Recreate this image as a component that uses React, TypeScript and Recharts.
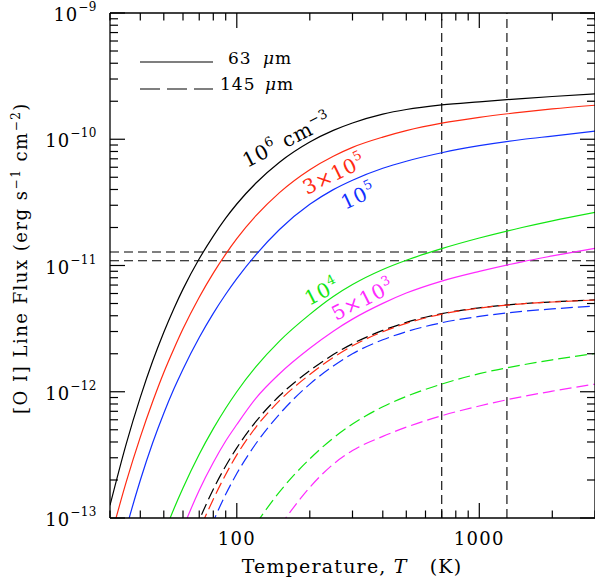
import { Line, LineChart, ReferenceLine, XAxis, YAxis } from "recharts";

// temperature grid (K)
const temps = [30, 35, 40, 45, 50, 55, 60, 70, 80, 90, 100, 120, 150, 200, 250, 300, 400, 500, 700, 1000, 1500, 2000, 3000];

// [O I] 63 um line flux, one array per density
const n1e6_63 = [1.26e-13, 3.87e-13, 9.03e-13, 1.75e-12, 2.96e-12, 4.55e-12, 6.5e-12, 1.13e-11, 1.71e-11, 2.37e-11, 3.07e-11, 4.5e-11, 6.58e-11, 9.51e-11, 1.175e-10, 1.345e-10, 1.58e-10, 1.72e-10, 1.87e-10, 1.98e-10, 2.1e-10, 2.18e-10, 2.29e-10];
const n3e5_63 = [6.67e-14, 1.93e-13, 4.37e-13, 8.36e-13, 1.42e-12, 2.18e-12, 3.15e-12, 5.61e-12, 8.71e-12, 1.23e-11, 1.63e-11, 2.48e-11, 3.78e-11, 5.74e-11, 7.34e-11, 8.63e-11, 1.04e-10, 1.17e-10, 1.34e-10, 1.49e-10, 1.64e-10, 1.74e-10, 1.86e-10];
const n1e5_63 = [2.59e-14, 8.24e-14, 1.99e-13, 3.94e-13, 6.76e-13, 1.05e-12, 1.51e-12, 2.69e-12, 4.18e-12, 5.92e-12, 7.87e-12, 1.22e-11, 1.93e-11, 3.05e-11, 3.99e-11, 4.74e-11, 5.89e-11, 6.7e-11, 7.82e-11, 8.89e-11, 9.95e-11, 1.06e-10, 1.16e-10];
const n1e4_63 = [null, null, null, null, 7.45e-14, 1.18e-13, 1.73e-13, 3.2e-13, 5.1e-13, 7.4e-13, 1.0e-12, 1.58e-12, 2.52e-12, 4.1e-12, 5.68e-12, 7.06e-12, 9.29e-12, 1.1e-11, 1.36e-11, 1.65e-11, 2.0e-11, 2.26e-11, 2.64e-11];
const n5e3_63 = [null, null, null, null, null, 5.4e-14, 8.3e-14, 1.66e-13, 2.75e-13, 4.07e-13, 5.5e-13, 8.91e-13, 1.39e-12, 2.21e-12, 3.02e-12, 3.76e-12, 5.01e-12, 6.05e-12, 7.53e-12, 8.99e-12, 1.07e-11, 1.19e-11, 1.37e-11];

// [O I] 145 um line flux
const n1e6_145 = [null, null, null, null, null, null, 4.45e-14, 9.6e-14, 1.69e-13, 2.58e-13, 3.59e-13, 5.82e-13, 9.29e-13, 1.47e-12, 1.97e-12, 2.4e-12, 3.06e-12, 3.54e-12, 4.16e-12, 4.62e-12, 4.98e-12, 5.15e-12, 5.35e-12];
const n3e5_145 = [null, null, null, null, null, null, 3.72e-14, 7.94e-14, 1.41e-13, 2.21e-13, 3.16e-13, 5.25e-13, 8.51e-13, 1.37e-12, 1.87e-12, 2.31e-12, 2.99e-12, 3.48e-12, 4.12e-12, 4.6e-12, 4.97e-12, 5.14e-12, 5.33e-12];
const n1e5_145 = [null, null, null, null, null, null, null, 4.81e-14, 9.38e-14, 1.54e-13, 2.25e-13, 3.89e-13, 6.65e-13, 1.15e-12, 1.6e-12, 2.0e-12, 2.58e-12, 2.99e-12, 3.52e-12, 3.95e-12, 4.33e-12, 4.53e-12, 4.78e-12];
const n1e4_145 = [null, null, null, null, null, null, null, null, null, null, null, 9.0e-14, 1.61e-13, 2.94e-13, 4.3e-13, 5.55e-13, 7.6e-13, 9.18e-13, 1.15e-12, 1.39e-12, 1.63e-12, 1.79e-12, 2.01e-12];
const n5e3_145 = [null, null, null, null, null, null, null, null, null, null, null, null, 8.53e-14, 1.75e-13, 2.67e-13, 3.42e-13, 4.43e-13, 5.24e-13, 6.46e-13, 7.71e-13, 9.14e-13, 1.01e-12, 1.15e-12];

// observed limits
const obsTemps = [700, 1300];
const obsFlux = [1.28e-11, 1.09e-11];

const xTicks = [30, 40, 50, 60, 70, 80, 90, 100, 200, 300, 400, 500, 600, 700, 800, 900, 1000, 2000, 3000];
const yTicks = [
  1e-13, 2e-13, 3e-13, 4e-13, 5e-13, 6e-13, 7e-13, 8e-13, 9e-13,
  1e-12, 2e-12, 3e-12, 4e-12, 5e-12, 6e-12, 7e-12, 8e-12, 9e-12,
  1e-11, 2e-11, 3e-11, 4e-11, 5e-11, 6e-11, 7e-11, 8e-11, 9e-11,
  1e-10, 2e-10, 3e-10, 4e-10, 5e-10, 6e-10, 7e-10, 8e-10, 9e-10,
  1e-9,
];

const BLACK = "#000000";
const RED = "#ff2a12";
const BLUE = "#1230ff";
const GREEN = "#12e612";
const MAGENTA = "#ff2aff";

const series = [
  { key: "n1e6_63", values: n1e6_63, color: BLACK, dashed: false },
  { key: "n3e5_63", values: n3e5_63, color: RED, dashed: false },
  { key: "n1e5_63", values: n1e5_63, color: BLUE, dashed: false },
  { key: "n1e4_63", values: n1e4_63, color: GREEN, dashed: false },
  { key: "n5e3_63", values: n5e3_63, color: MAGENTA, dashed: false },
  { key: "n1e6_145", values: n1e6_145, color: BLACK, dashed: true },
  { key: "n3e5_145", values: n3e5_145, color: RED, dashed: true },
  { key: "n1e5_145", values: n1e5_145, color: BLUE, dashed: true },
  { key: "n1e4_145", values: n1e4_145, color: GREEN, dashed: true },
  { key: "n5e3_145", values: n5e3_145, color: MAGENTA, dashed: true },
];

const rows = temps.map((T, i) => {
  const row: Record<string, number | null> = { T };
  series.forEach((s) => (row[s.key] = s.values[i]));
  return row;
});

const FONT = "DejaVu Serif";
const isMajor = (v: number) => Math.abs(Math.log10(v) - Math.round(Math.log10(v))) < 1e-6;

function BottomTick({ x, y, payload }: any) {
  const major = isMajor(payload.value);
  return (
    <g>
      <line x1={x} x2={x} y1={y} y2={y - (major ? 15 : 7.5)} stroke="#000" strokeWidth={1.2} />
      {major && payload.value > 30 && payload.value < 3000 && (
        <text x={x} y={y + 27} textAnchor="middle" fontFamily={FONT} fontSize={18} letterSpacing={1.3} fill="#000">
          {payload.value}
        </text>
      )}
    </g>
  );
}

function TopTick({ x, y, payload }: any) {
  const major = isMajor(payload.value);
  return <line x1={x} x2={x} y1={y} y2={y + (major ? 15 : 7.5)} stroke="#000" strokeWidth={1.2} />;
}

function LeftTick({ x, y, payload }: any) {
  const major = isMajor(payload.value);
  const exp = Math.round(Math.log10(payload.value));
  return (
    <g>
      <line x1={x} x2={x + (major ? 15 : 8)} y1={y} y2={y} stroke="#000" strokeWidth={1.2} />
      {major && (
        <text x={x - 13} y={y + 8} textAnchor="end" fontFamily={FONT} fontSize={18} letterSpacing={1} fill="#000">
          10
          <tspan dy={-10} fontSize={12} letterSpacing={0.5}>
            {"\u2212" + Math.abs(exp)}
          </tspan>
        </text>
      )}
    </g>
  );
}

function RightTick({ x, y, payload }: any) {
  const major = isMajor(payload.value);
  return <line x1={x} x2={x - (major ? 15 : 8)} y1={y} y2={y} stroke="#000" strokeWidth={1.2} />;
}

function Annotations() {
  const lab = { fontFamily: FONT, fontSize: 20, letterSpacing: 0.8 };
  const sup = { fontSize: 13 };
  return (
    <svg width={595} height={583} style={{ position: "absolute", left: 0, top: 0, pointerEvents: "none" }}>
      {/* legend */}
      <line x1={140} x2={213} y1={62} y2={62} stroke="#000" strokeWidth={1.2} />
      <text x={228} y={64} fontFamily={FONT} fontSize={17} letterSpacing={1} fill="#000">
        63
        <tspan x={263} fontStyle="italic">μ</tspan>m
      </text>
      <line x1={140} x2={213} y1={89} y2={89} stroke="#000" strokeWidth={1.2} strokeDasharray="20 7" />
      <text x={220} y={90} fontFamily={FONT} fontSize={17} letterSpacing={1} fill="#000">
        145
        <tspan x={265} fontStyle="italic">μ</tspan>m
      </text>

      {/* density labels */}
      <text x={247} y={168} transform="rotate(-27 247 168)" {...lab} fill={BLACK}>
        10<tspan dy={-9} {...sup}>6</tspan>
        <tspan dy={9} dx={8}>cm</tspan>
        <tspan dy={-9} {...sup}>{"\u22123"}</tspan>
      </text>
      <text x={307} y={195} transform="rotate(-26 307 195)" {...lab} fill={RED}>
        3×10<tspan dy={-9} {...sup}>5</tspan>
      </text>
      <text x={345} y={210} transform="rotate(-25 345 210)" {...lab} fill={BLUE}>
        10<tspan dy={-9} {...sup}>5</tspan>
      </text>
      <text x={309} y={306} transform="rotate(-27 309 306)" {...lab} fill={GREEN}>
        10<tspan dy={-9} {...sup}>4</tspan>
      </text>
      <text x={336} y={321} transform="rotate(-27 336 321)" {...lab} fill={MAGENTA}>
        5×10<tspan dy={-9} {...sup}>3</tspan>
      </text>

      {/* axis titles */}
      <text x={352} y={573} textAnchor="middle" fontFamily={FONT} fontSize={19} letterSpacing={1.2} fill="#000">
        Temperature,{" "}
        <tspan fontStyle="italic">T</tspan>
        <tspan dx={22}>(K)</tspan>
      </text>
      <text
        x={27}
        y={258}
        transform="rotate(-90 27 258)"
        textAnchor="middle"
        fontFamily={FONT}
        fontSize={18}
        letterSpacing={1.5}
        fill="#000"
      >
        [O I] Line Flux (erg s<tspan dy={-7} fontSize={12}>{"\u22121"}</tspan>
        <tspan dy={7}> cm</tspan>
        <tspan dy={-7} fontSize={12}>{"\u22122"}</tspan>
        <tspan dy={7}>)</tspan>
      </text>
    </svg>
  );
}

export default function App() {
  return (
    <div style={{ position: "absolute", left: 0, top: 0, width: 595, height: 583, overflow: "hidden", background: "#fff" }}>
      <LineChart width={596} height={583} data={rows} margin={{ top: 12, right: 0, bottom: 0, left: 0 }}>
        <XAxis
          dataKey="T"
          type="number"
          scale="log"
          domain={[30, 3000]}
          allowDataOverflow
          ticks={xTicks}
          interval={0}
          height={65}
          tickSize={0}
          tickMargin={0}
          tickLine={false}
          axisLine={{ stroke: "#000", strokeWidth: 1.3 }}
          tick={<BottomTick />}
        />
        <XAxis
          xAxisId="top"
          orientation="top"
          dataKey="T"
          type="number"
          scale="log"
          domain={[30, 3000]}
          allowDataOverflow
          ticks={xTicks}
          interval={0}
          height={1}
          tickSize={0}
          tickMargin={0}
          tickLine={false}
          axisLine={{ stroke: "#000", strokeWidth: 1.3 }}
          tick={<TopTick />}
        />
        <YAxis
          type="number"
          scale="log"
          domain={[1e-13, 1e-9]}
          allowDataOverflow
          ticks={yTicks}
          interval={0}
          width={110}
          tickSize={0}
          tickMargin={0}
          tickLine={false}
          axisLine={{ stroke: "#000", strokeWidth: 1.3 }}
          tick={<LeftTick />}
        />
        <YAxis
          yAxisId="r"
          orientation="right"
          type="number"
          scale="log"
          domain={[1e-13, 1e-9]}
          allowDataOverflow
          ticks={yTicks}
          interval={0}
          width={1}
          tickSize={0}
          tickMargin={0}
          tickLine={false}
          axisLine={{ stroke: "#000", strokeWidth: 1.3 }}
          tick={<RightTick />}
        />
        {obsTemps.map((t) => (
          <ReferenceLine key={"v" + t} x={t} stroke="#000" strokeWidth={1.1} strokeDasharray="9 5" />
        ))}
        {obsFlux.map((f) => (
          <ReferenceLine key={"h" + f} y={f} stroke="#000" strokeWidth={1.1} strokeDasharray="9 5" />
        ))}
        {series.map((s) => (
          <Line
            key={s.key}
            dataKey={s.key}
            type="monotone"
            stroke={s.color}
            strokeWidth={1.2}
            strokeDasharray={s.dashed ? "12 5" : undefined}
            dot={false}
            activeDot={false}
            isAnimationActive={false}
          />
        ))}
      </LineChart>
      <Annotations />
    </div>
  );
}
